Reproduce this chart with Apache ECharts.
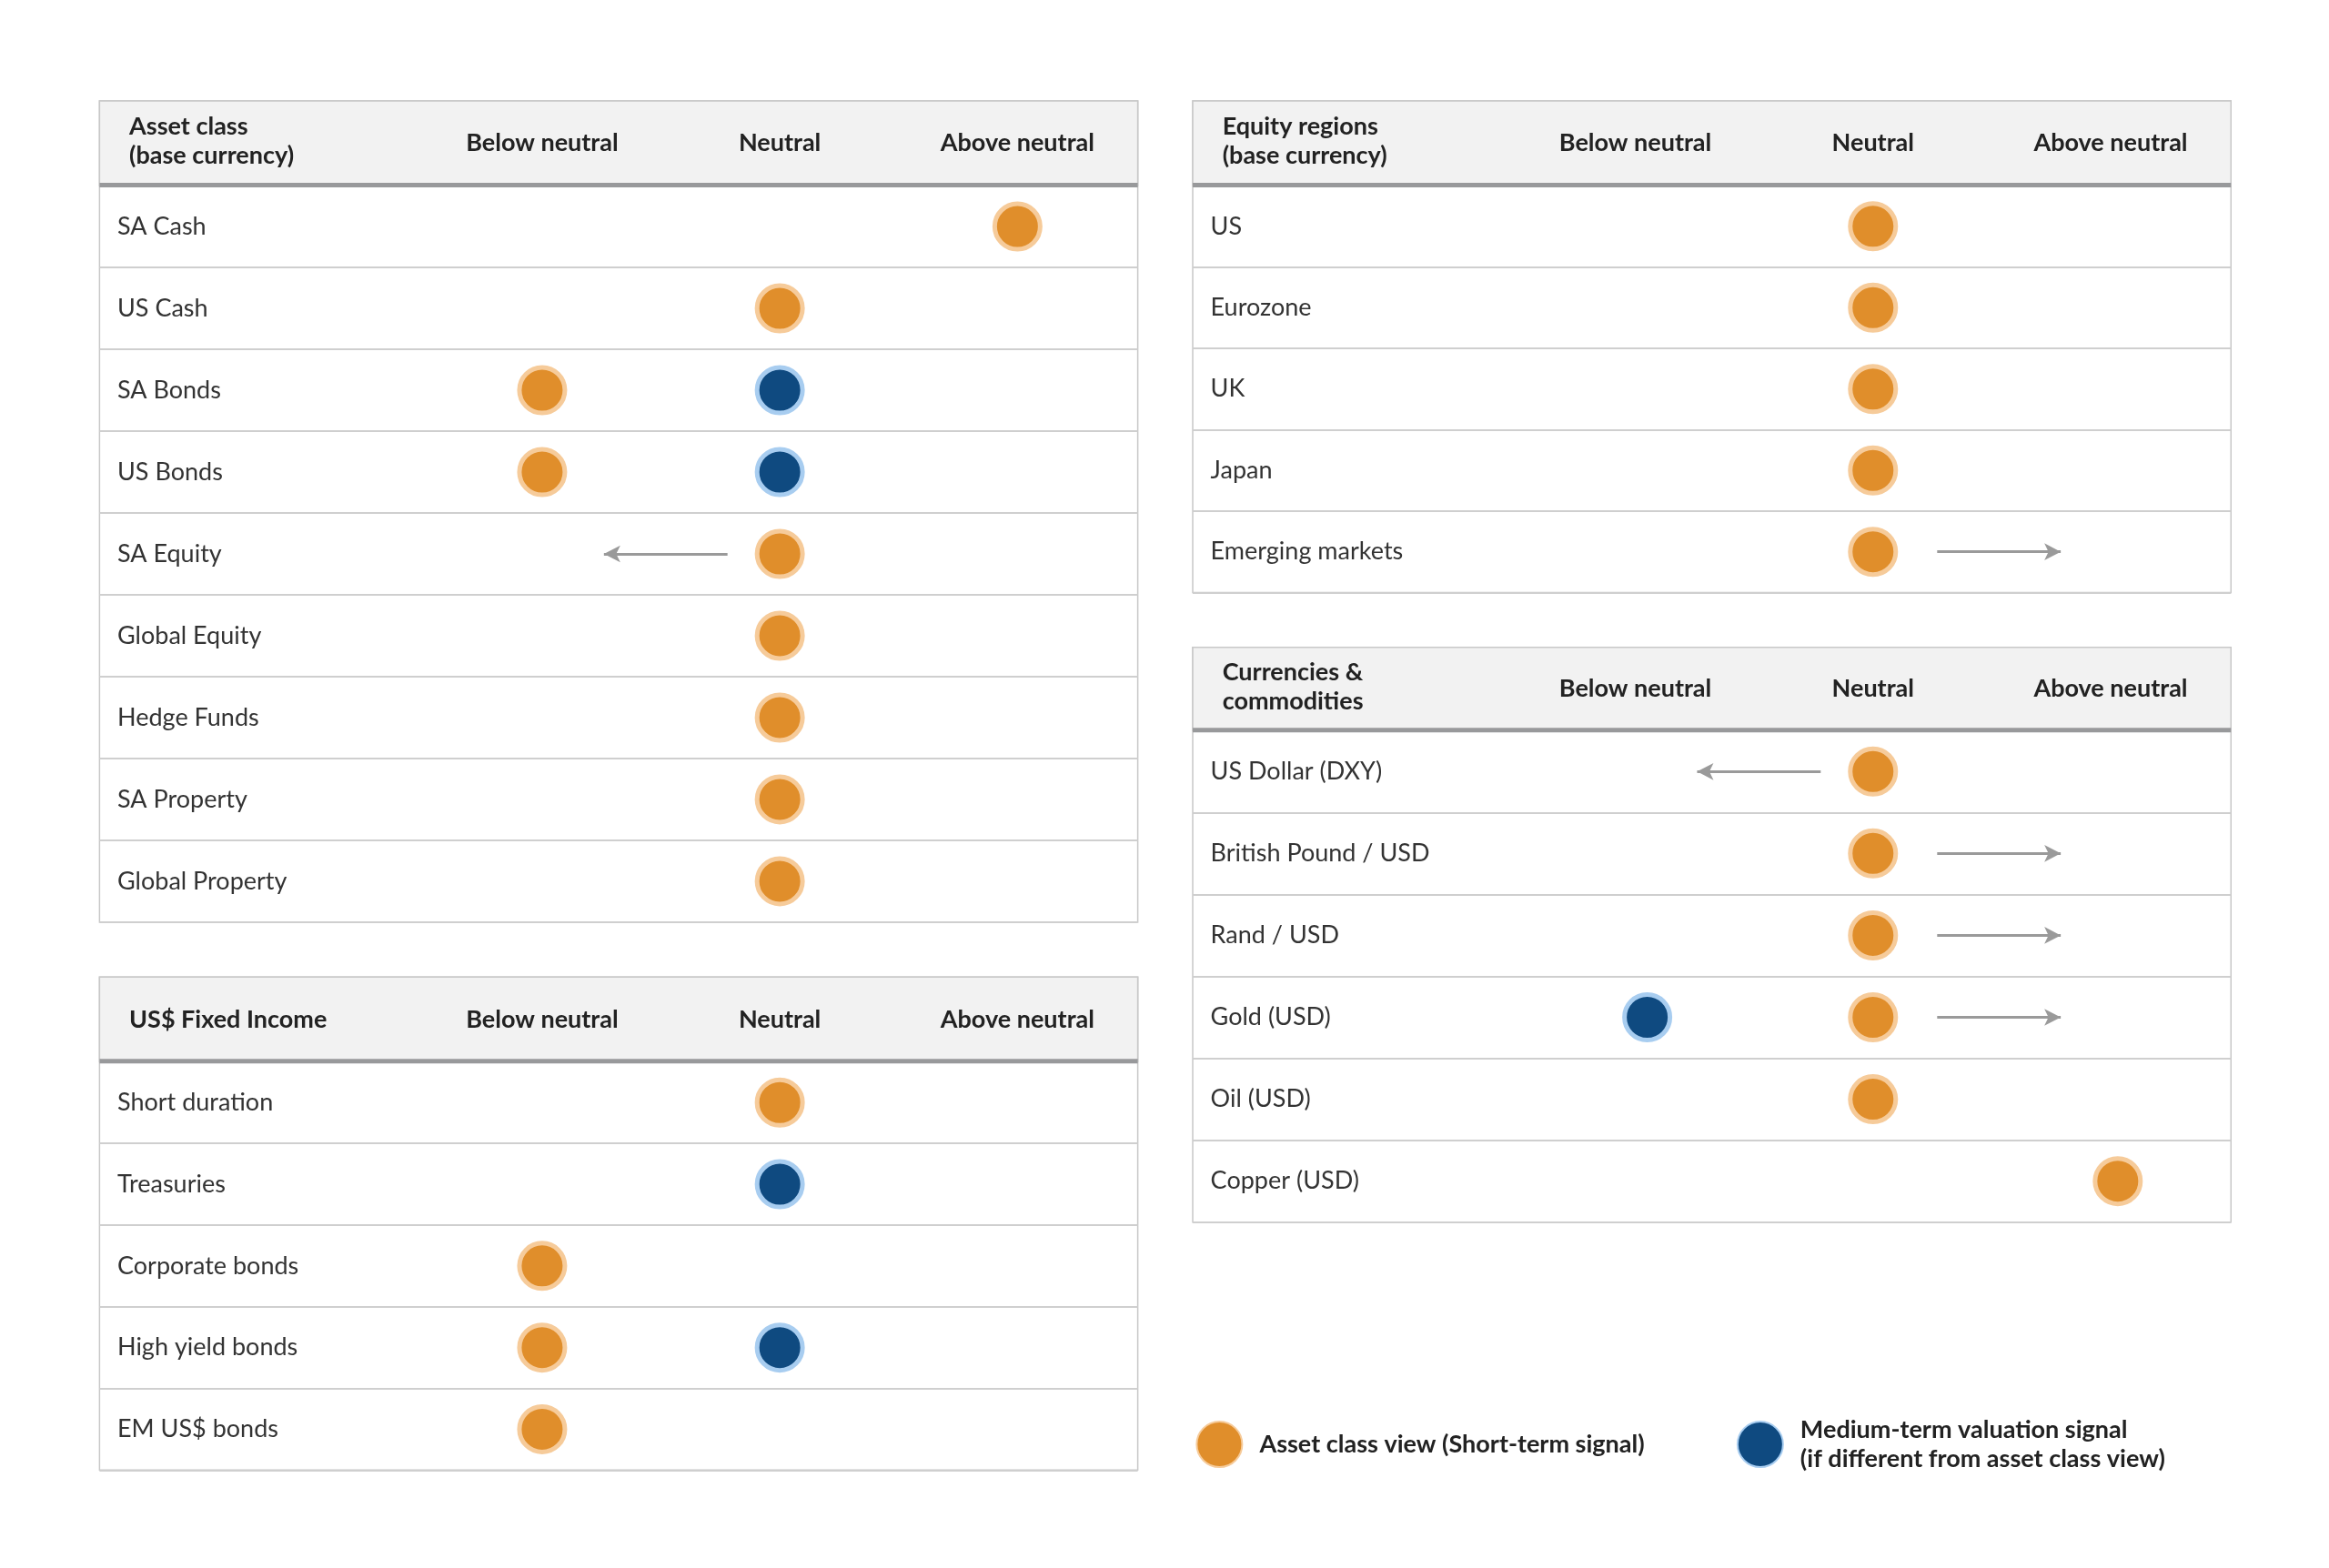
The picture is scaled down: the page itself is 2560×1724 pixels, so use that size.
<!DOCTYPE html>
<html>
<head>
<meta charset="utf-8">
<script src="https://cdn.jsdelivr.net/npm/echarts@6/dist/echarts.min.js"></script>
<style>
  html, body { margin: 0; padding: 0; background: #fff; }
  #chart { width: 2560px; height: 1724px; }
</style>
</head>
<body>
<div id="chart"></div>
<script>
// 数据
var colTitles = ['Below neutral', 'Neutral', 'Above neutral'];

var assetRows = ['SA Cash', 'US Cash', 'SA Bonds', 'US Bonds', 'SA Equity', 'Global Equity', 'Hedge Funds', 'SA Property', 'Global Property'];
var assetShort = [2, 1, 0, 0, 1, 1, 1, 1, 1];
var assetMedium = [null, null, 1, 1, null, null, null, null, null];
var assetArrows = [['SA Equity', 0.78, 0.26]];

var fixedRows = ['Short duration', 'Treasuries', 'Corporate bonds', 'High yield bonds', 'EM US$ bonds'];
var fixedShort = [1, null, 0, 0, 0];
var fixedMedium = [null, 1, null, 1, null];
var fixedArrows = [];

var equityRows = ['US', 'Eurozone', 'UK', 'Japan', 'Emerging markets'];
var equityShort = [1, 1, 1, 1, 1];
var equityMedium = [null, null, null, null, null];
var equityArrows = [['Emerging markets', 1.27, 1.79]];

var fxRows = ['US Dollar (DXY)', 'British Pound / USD', 'Rand / USD', 'Gold (USD)', 'Oil (USD)', 'Copper (USD)'];
var fxShort = [1, 1, 1, 1, 1, 2.03];
var fxMedium = [null, null, null, 0.05, null, null];
var fxArrows = [['US Dollar (DXY)', 0.78, 0.26], ['British Pound / USD', 1.27, 1.79], ['Rand / USD', 1.27, 1.79], ['Gold (USD)', 1.27, 1.79]];

var shortName = 'Asset class view (Short-term signal)';
var mediumName = 'Medium-term valuation signal\n(if different from asset class view)';

// 布局（按参考图 1560 宽坐标，再按比例放大）
var k = 2560 / 1568;
function S(v) { return v * k; }
var font = 'Lato, "Noto Sans", sans-serif';

var tables = [
  { title: ['Asset class', '(base currency)'], x: 67, top: 68, head: 125, bottom: 621, rows: assetRows, sh: assetShort, md: assetMedium, arrows: assetArrows },
  { title: ['US$ Fixed Income'], x: 67, top: 658, head: 715, bottom: 990, rows: fixedRows, sh: fixedShort, md: fixedMedium, arrows: fixedArrows },
  { title: ['Equity regions', '(base currency)'], x: 803, top: 68, head: 125, bottom: 399, rows: equityRows, sh: equityShort, md: equityMedium, arrows: equityArrows },
  { title: ['Currencies &', 'commodities'], x: 803, top: 436, head: 492, bottom: 823, rows: fxRows, sh: fxShort, md: fxMedium, arrows: fxArrows }
];
var W = 699;
var colX = [298, 458, 618]; // 表头列中心相对表格左边

var grids = [], xAxes = [], yAxes = [], series = [], graphics = [];

tables.forEach(function (t, i) {
  // 表头背景与边框
  graphics.push({ type: 'rect', z: -10, shape: { x: S(t.x), y: S(t.top), width: S(W), height: S(t.bottom - t.top) },
    style: { fill: '#fff', stroke: '#c8c8c8', lineWidth: 1.5 } });
  graphics.push({ type: 'rect', z: -9, shape: { x: S(t.x), y: S(t.top), width: S(W), height: S(t.head - t.top) },
    style: { fill: '#f2f2f2', stroke: '#c8c8c8', lineWidth: 1.5 } });
  graphics.push({ type: 'rect', z: 5, shape: { x: S(t.x), y: S(t.head) - 3, width: S(W), height: 5 },
    style: { fill: '#98999b' } });
  var hy = S((t.top + t.head) / 2);
  graphics.push({ type: 'text', left: S(t.x + 20), top: t.title.length > 1 ? hy - 34 : hy - 16,
    style: { text: t.title.join('\n'), font: 'bold 27px ' + font, fill: '#222', lineHeight: 32 } });
  colTitles.forEach(function (c, j) {
    graphics.push({ type: 'text', x: S(t.x + colX[j]), y: hy,
      style: { text: c, font: 'bold 27px ' + font, fill: '#222', align: 'center', verticalAlign: 'middle' } });
  });

  grids.push({ left: S(t.x), top: S(t.head), width: S(W), height: S(t.bottom - t.head), containLabel: false });
  xAxes.push({ type: 'value', gridIndex: i, min: -1.8625, max: 2.5063, show: false });
  yAxes.push({ type: 'category', gridIndex: i, data: t.rows, inverse: true,
    axisLine: { show: false }, axisTick: { show: false },
    axisLabel: { inside: true, margin: S(12), color: '#333', fontSize: 27, fontFamily: font },
    splitLine: { show: true, lineStyle: { color: '#cfcfcf', width: 2 } } });

  var dotStyle = function (fill, border) {
    return { color: fill, borderColor: border, borderWidth: 5, opacity: 1 };
  };
  series.push({
    name: shortName, type: 'scatter', xAxisIndex: i, yAxisIndex: i, symbolSize: 50, z: 3,
    itemStyle: dotStyle('#e08e2b', '#f6cb9a'),
    data: t.sh.map(function (v, r) { return v == null ? null : [v, t.rows[r]]; }).filter(Boolean),
    markLine: {
      silent: true, symbol: ['none', 'arrow'], symbolSize: [14, 18], label: { show: false },
      lineStyle: { color: '#9a9a9a', width: 3, type: 'solid' },
      data: t.arrows.map(function (a) { return [{ coord: [a[1], a[0]] }, { coord: [a[2], a[0]] }]; })
    }
  });
  series.push({
    name: mediumName, type: 'scatter', xAxisIndex: i, yAxisIndex: i, symbolSize: 50, z: 3,
    itemStyle: dotStyle('#0f4a80', '#a8cdf0'),
    data: t.md.map(function (v, r) { return v == null ? null : [v, t.rows[r]]; }).filter(Boolean)
  });
});

var chart = echarts.init(document.getElementById('chart'));
chart.setOption({
  backgroundColor: '#fff',
  animation: false,
  grid: grids,
  xAxis: xAxes,
  yAxis: yAxes,
  legend: {
    left: S(802), top: S(950), itemGap: S(62), itemWidth: 50, itemHeight: 50,
    icon: 'circle', selectedMode: false,
    data: [shortName, mediumName],
    textStyle: { fontFamily: font, fontWeight: 'bold', fontSize: 27, color: '#222', lineHeight: 32, padding: [0, 0, 0, 14] }
  },
  graphic: graphics,
  series: series
});
</script>
</body>
</html>
